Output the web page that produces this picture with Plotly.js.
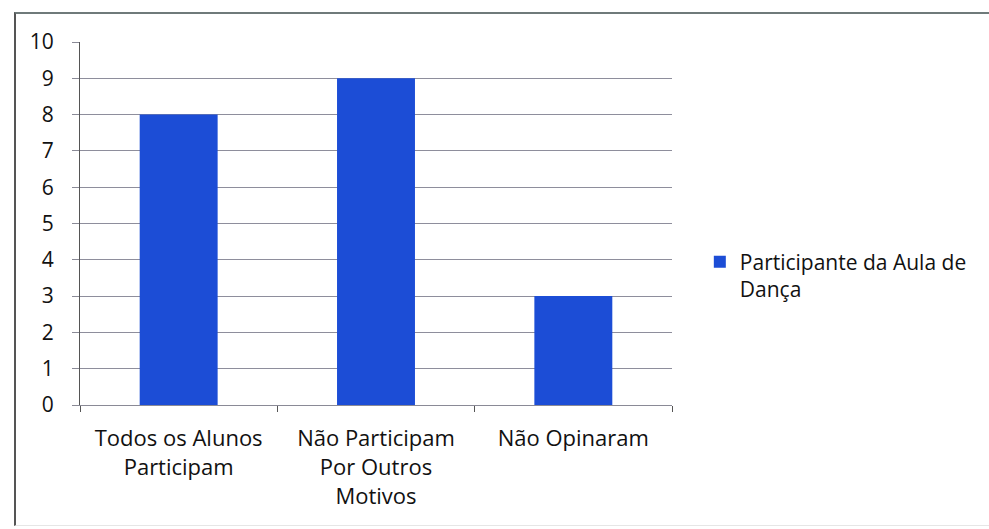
<!DOCTYPE html>
<html>
<head>
<meta charset="utf-8">
<script src="https://cdn.plot.ly/plotly-3.0.1.min.js"></script>
<style>
  html, body { margin: 0; padding: 0; background: #fff; }
  #wrap { position: relative; width: 989px; height: 529px; }
  #chart { position: absolute; left: 0; top: 0; width: 989px; height: 529px; }
  #frame { position: absolute; left: 14px; top: 12px; width: 975px; height: 514px;
           border-top: 2px solid #6f7a7a; border-left: 2px solid #555; border-bottom: 1px solid #e6e6e6;
           pointer-events: none; box-sizing: border-box; }
</style>
</head>
<body>
<div id="wrap">
  <div id="chart"></div>
  <div id="frame"></div>
</div>
<script>
const categories = ["Todos os Alunos<br>Participam", "Não Participam<br>Por Outros<br>Motivos", "Não Opinaram"];
const values = [8, 9, 3];
const seriesName = "Participante da Aula de<br>Dança";
const yTicks = [0, 1, 2, 3, 4, 5, 6, 7, 8, 9, 10];

const trace = {
  type: "bar",
  x: categories,
  y: values,
  name: seriesName,
  marker: { color: "#1c4dd6", line: { width: 0 } },
  showlegend: true,
  hoverinfo: "x+y"
};

const layout = {
  width: 989,
  height: 529,
  margin: { l: 80, r: 317, t: 42, b: 124 },
  paper_bgcolor: "#ffffff",
  plot_bgcolor: "#ffffff",
  font: { family: "Open Sans, sans-serif", size: 21, color: "#111" },
  bargap: 0.605,
  showlegend: true,
  legend: {
    x: 1.047, xanchor: "left",
    y: 0.45, yanchor: "top",
    valign: "top",
    bgcolor: "rgba(0,0,0,0)",
    font: { family: "Open Sans, sans-serif", size: 21, color: "#111" }
  },
  xaxis: {
    type: "category",
    tickson: "boundaries",
    ticks: "outside",
    ticklen: 6,
    tickcolor: "#555",
    tickwidth: 1,
    showline: true,
    linecolor: "#8a8a96",
    linewidth: 1,
    showgrid: false,
    tickfont: { family: "Open Sans, sans-serif", size: 22, color: "#111" },
    ticklabelstandoff: 14,
    fixedrange: true
  },
  yaxis: {
    range: [0, 10],
    tickvals: yTicks,
    ticks: "outside",
    ticklen: 7,
    tickcolor: "#8a8a96",
    showline: true,
    linecolor: "#555",
    linewidth: 1,
    showgrid: true,
    gridcolor: "#8e8e9c",
    gridwidth: 1,
    zeroline: false,
    tickfont: { family: "Open Sans, sans-serif", size: 21, color: "#111" },
    ticklabelstandoff: 14,
    fixedrange: true
  }
};

Plotly.newPlot("chart", [trace], layout, { displayModeBar: false, staticPlot: true });
</script>
</body>
</html>
